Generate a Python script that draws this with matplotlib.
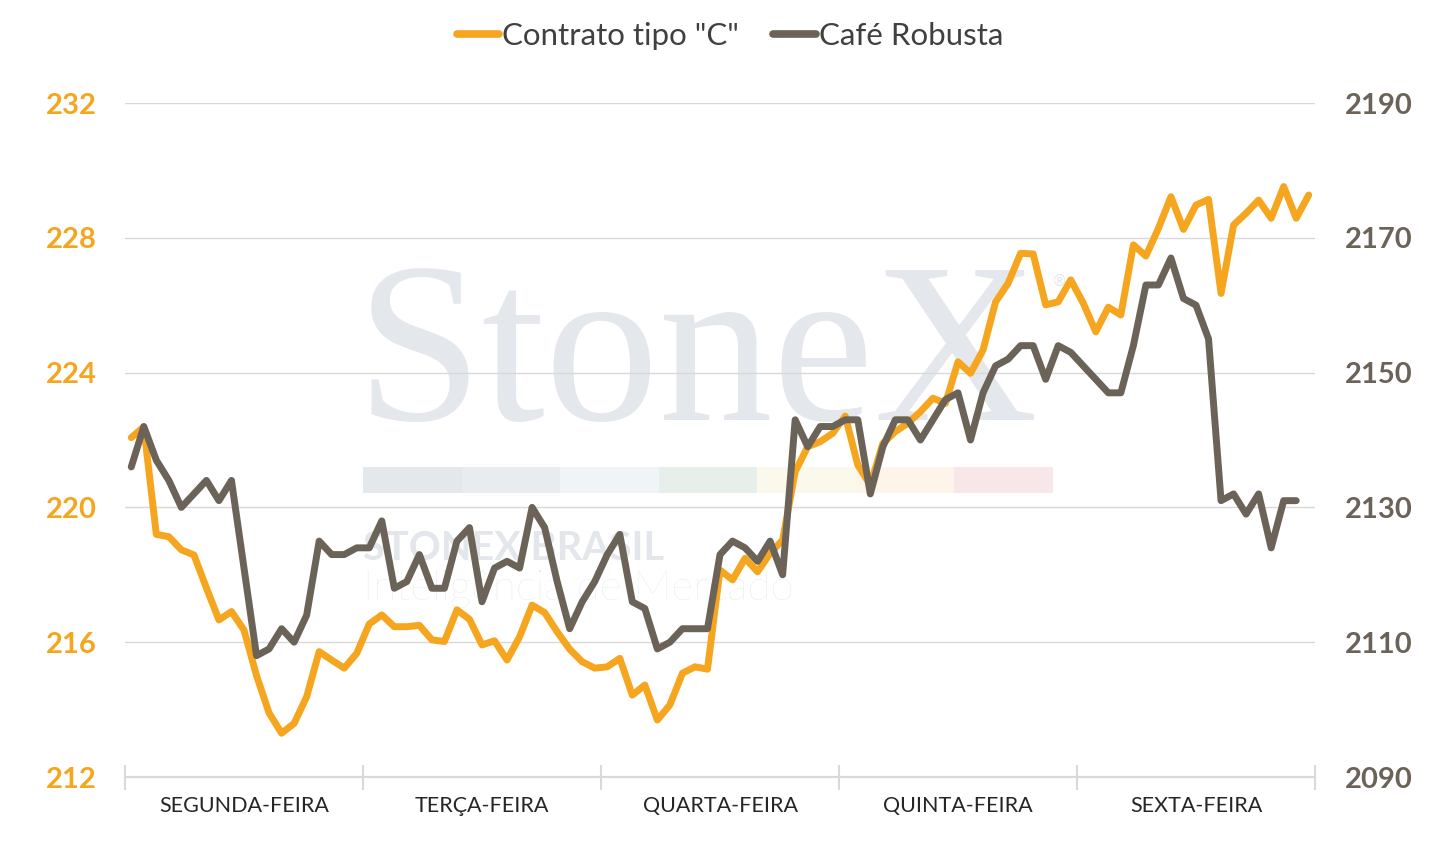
import numpy as np
import matplotlib
matplotlib.use("Agg")
import matplotlib.pyplot as plt
from matplotlib.patches import Rectangle
from matplotlib.lines import Line2D

# ---------------- data ----------------
days = ["SEGUNDA-FEIRA", "TERÇA-FEIRA", "QUARTA-FEIRA", "QUINTA-FEIRA", "SEXTA-FEIRA"]
points_per_day = 19

contrato_c = [
    222.07, 222.39, 219.20, 219.13, 218.74, 218.59, 217.61, 216.66, 216.91, 216.36,
    215.01, 213.90, 213.30, 213.59, 214.38, 215.72, 215.47, 215.23, 215.67,
    216.54, 216.81, 216.46, 216.46, 216.50, 216.07, 216.02, 216.96, 216.68, 215.92,
    216.04, 215.47, 216.16, 217.10, 216.88, 216.31, 215.79, 215.42, 215.23,
    215.27, 215.52, 214.43, 214.73, 213.69, 214.14, 215.08, 215.27, 215.20, 218.14,
    217.85, 218.49, 218.09, 218.64, 219.03, 221.06, 221.80, 221.95, 222.20,
    222.71, 221.26, 220.66, 221.90, 222.25, 222.50, 222.84, 223.24, 223.09, 224.32,
    223.98, 224.67, 226.10, 226.65, 227.54, 227.52, 226.01, 226.10, 226.75,
    226.06, 225.21, 225.94, 225.71, 227.79, 227.46, 228.28, 229.22, 228.25, 228.97,
    229.14, 226.35, 228.38, 228.73, 229.12, 228.58, 229.52, 228.58, 229.27,
]

robusta = [
    2136, 2142, 2137, 2134, 2130, 2132, 2134, 2131, 2134, 2121,
    2108, 2109, 2112, 2110, 2114, 2125, 2123, 2123, 2124,
    2124, 2128, 2118, 2119, 2123, 2118, 2118, 2125, 2127, 2116,
    2121, 2122, 2121, 2130, 2127, 2119, 2112, 2116, 2119,
    2123, 2126, 2116, 2115, 2109, 2110, 2112, 2112, 2112, 2123,
    2125, 2124, 2122, 2125, 2120, 2143, 2139, 2142, 2142,
    2143, 2143, 2132, 2139, 2143, 2143, 2140, 2143, 2146, 2147,
    2140, 2147, 2151, 2152, 2154, 2154, 2149, 2154, 2153,
    2151, 2149, 2147, 2147, 2154, 2163, 2163, 2167, 2161, 2160,
    2155, 2131, 2132, 2129, 2132, 2124, 2131, 2131, np.nan,
]

left_ticks = [212, 216, 220, 224, 228, 232]
right_ticks = [2090, 2110, 2130, 2150, 2170, 2190]

series_names = ['Contrato tipo "C"', 'Café Robusta']

# ---------------- style ----------------
ORANGE = "#F5A51E"
GRAY = "#6B6358"
GRID = "#D9D9D9"

W, H = 1455, 842
fig = plt.figure(figsize=(W / 100, H / 100), dpi=100)
fig.patch.set_facecolor("white")

x0, x1, y0, y1 = 125, 1315, 103, 777
ax = fig.add_axes([x0 / W, 1 - y1 / H, (x1 - x0) / W, (y1 - y0) / H])
ax.patch.set_visible(False)
ax2 = ax.twinx()
ax2.patch.set_visible(False)

n = len(contrato_c)
x = np.arange(n) + 0.5

# ---------------- watermark ----------------
wm = "#E4E7EC"
fig.text(356 / W, 1 - 420 / H, "StoneX", fontsize=164, family="Liberation Serif",
         color=wm, va="baseline", ha="left", zorder=-5)
fig.text(1052 / W, 1 - 286 / H, "®", fontsize=11, family="DejaVu Sans",
         color=wm, va="baseline", ha="left", zorder=-5)
bar_cols = ["#E4E7EC", "#E8ECF0", "#EFF4F8", "#E6EFEA", "#FBF8EC", "#FDF5E9", "#F7E7E8"]
bx0, bx1, by0, by1 = 363, 1053, 467, 493
seg = (bx1 - bx0) / len(bar_cols)
for k, c in enumerate(bar_cols):
    fig.patches.append(Rectangle(((bx0 + k * seg) / W, 1 - by1 / H), seg / W, (by1 - by0) / H,
                                 transform=fig.transFigure, facecolor=c, edgecolor="none",
                                 zorder=-5))
fig.text(363 / W, 1 - 560 / H, "STONEX BRASIL", fontsize=28.5, family="Lato",
         weight="bold", color="#E3E6EB", va="baseline", ha="left", zorder=-5)
fig.text(363 / W, 1 - 600 / H, "Inteligência de Mercado", fontsize=30.5, family="Lato",
         weight="light", color="#E3E6EB", va="baseline", ha="left", zorder=-5)

# ---------------- lines ----------------
ax.plot(x, contrato_c, color=ORANGE, lw=5, solid_joinstyle="round",
        solid_capstyle="round", zorder=3)
ax2.plot(x, robusta, color=GRAY, lw=5, solid_joinstyle="round",
         solid_capstyle="round", zorder=3)

ax.set_xlim(0, n)
ax.set_ylim(212, 232)
ax2.set_ylim(2090, 2190)

ax.set_yticks(left_ticks)
ax2.set_yticks(right_ticks)
ax.yaxis.grid(True, color=GRID, lw=1)
ax.set_axisbelow(True)

for a in (ax, ax2):
    for s in ("top", "left", "right"):
        a.spines[s].set_visible(False)
    a.spines["bottom"].set_color(GRID)
    a.spines["bottom"].set_linewidth(1.5)

ax.tick_params(axis="y", length=0, pad=20, labelsize=21, labelcolor=ORANGE)
ax2.tick_params(axis="y", length=0, pad=21.5, labelsize=21, labelcolor=GRAY)
for lab in ax.get_yticklabels():
    lab.set_fontweight("bold"); lab.set_family("Lato")
for lab in ax2.get_yticklabels():
    lab.set_fontweight("bold"); lab.set_family("Lato")

# day boundaries and labels
bounds = np.arange(0, n + 1, points_per_day)
ax.set_xticks(bounds)
ax.set_xticklabels([])
ax.tick_params(axis="x", which="major", direction="inout", length=18, width=1.5, color=GRID)
ax.set_xticks(bounds[:-1] + points_per_day / 2, minor=True)
ax.set_xticklabels(days, minor=True)
ax.tick_params(axis="x", which="minor", length=0, pad=14, labelsize=15.5, labelcolor="#262626")
for lab in ax.get_xticklabels(minor=True):
    lab.set_family("Lato")
ax2.tick_params(axis="x", length=0)

# legend
handles = [Line2D([], [], color=ORANGE, lw=5.5, solid_capstyle="round"),
           Line2D([], [], color=GRAY, lw=5.5, solid_capstyle="round")]
leg = fig.legend(handles, series_names, loc="center", bbox_to_anchor=(730 / W, 1 - 36 / H),
                 ncol=2, frameon=False, handlelength=1.35, handletextpad=0.1,
                 columnspacing=1.1, prop={"family": "Lato", "size": 22.5})
for t in leg.get_texts():
    t.set_color("#404040")

fig.savefig("out.png", dpi=100, facecolor="white")
